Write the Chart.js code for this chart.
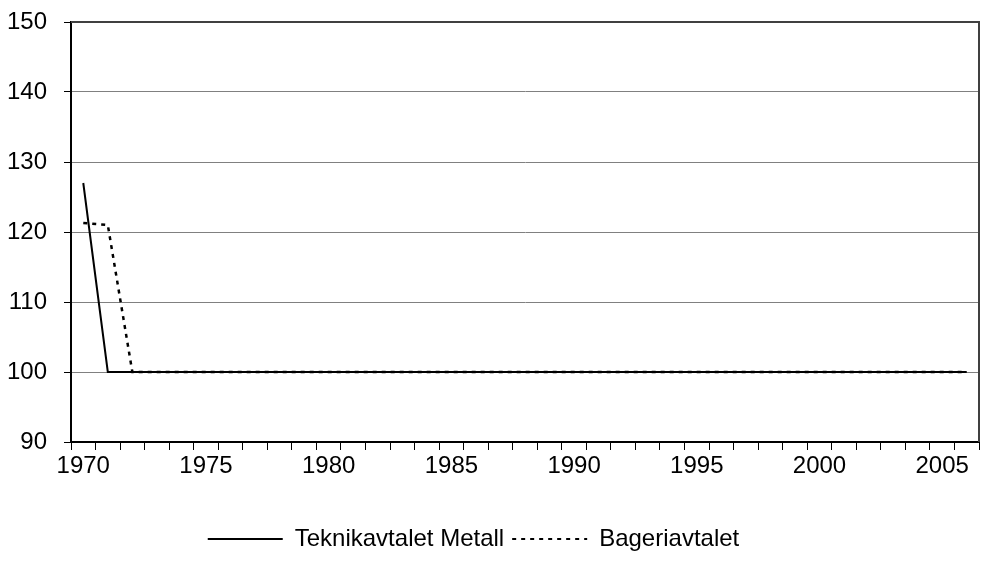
<!DOCTYPE html>
<html>
<head>
<meta charset="utf-8">
<script src="https://cdn.jsdelivr.net/npm/chart.js@4.4.0/dist/chart.umd.min.js"></script>
<style>
  html, body { margin: 0; padding: 0; background: #fff; }
  #wrap { width: 982px; height: 573px; }
</style>
</head>
<body>
<div id="wrap"><canvas id="chart" width="982" height="573"></canvas></div>
<script>
// years 1970-2006
const years = ['1970', '1971', '1972', '1973', '1974', '1975', '1976', '1977', '1978', '1979',
  '1980', '1981', '1982', '1983', '1984', '1985', '1986', '1987', '1988', '1989',
  '1990', '1991', '1992', '1993', '1994', '1995', '1996', '1997', '1998', '1999',
  '2000', '2001', '2002', '2003', '2004', '2005', '2006'];

const yearLabelsShown = ['1970', '1975', '1980', '1985', '1990', '1995', '2000', '2005'];

const teknikMetall = [127, 100, 100, 100, 100, 100, 100, 100, 100, 100,
  100, 100, 100, 100, 100, 100, 100, 100, 100, 100,
  100, 100, 100, 100, 100, 100, 100, 100, 100, 100,
  100, 100, 100, 100, 100, 100, 100];

const bageri = [121.3, 121, 100, 100, 100, 100, 100, 100, 100, 100,
  100, 100, 100, 100, 100, 100, 100, 100, 100, 100,
  100, 100, 100, 100, 100, 100, 100, 100, 100, 100,
  100, 100, 100, 100, 100, 100, 100];

const font = 'Liberation Sans, Arial, sans-serif';

// plot area border (top and right), legend nudged left
const frame = {
  id: 'frame',
  afterLayout(chart) {
    chart.legend.left -= 16;
    chart.legend.right -= 16;
  },
  afterDraw(chart) {
    const a = chart.chartArea, c = chart.ctx;
    c.save();
    c.strokeStyle = '#404040';
    c.lineWidth = 2;
    c.beginPath();
    c.moveTo(a.left, a.top);
    c.lineTo(a.right, a.top);
    c.lineTo(a.right, a.bottom);
    c.stroke();
    c.restore();
  }
};

new Chart(document.getElementById('chart'), {
  type: 'line',
  data: {
    labels: years,
    datasets: [
      {
        label: 'Teknikavtalet Metall',
        data: teknikMetall,
        borderColor: '#000',
        borderWidth: 2,
        pointRadius: 0,
        tension: 0
      },
      {
        label: 'Bageriavtalet',
        data: bageri,
        borderColor: '#000',
        borderWidth: 2.5,
        borderDash: [4, 5],
        pointRadius: 0,
        tension: 0
      }
    ]
  },
  options: {
    responsive: false,
    animation: false,
    layout: { padding: { top: 22, right: 3, bottom: 12, left: 0 } },
    plugins: {
      tooltip: { enabled: false },
      legend: {
        position: 'bottom',
        labels: {
          color: '#000',
          font: { family: font, size: 24 },
          usePointStyle: true,
          pointStyle: 'line',
          pointStyleWidth: 75,
          boxHeight: 24,
          padding: 8,
          generateLabels(chart) {
            const items = Chart.defaults.plugins.legend.labels.generateLabels(chart);
            items.forEach(it => {
              const ds = chart.data.datasets[it.datasetIndex];
              it.lineDash = ds.borderDash || [];
              it.lineWidth = 2;
            });
            return items;
          }
        }
      }
    },
    scales: {
      x: {
        offset: true,
        grid: {
          offset: true,
          drawOnChartArea: false,
          drawTicks: true,
          tickLength: 8,
          color: '#000',
          tickColor: '#000'
        },
        border: { color: '#000', width: 2 },
        ticks: {
          autoSkip: false,
          maxRotation: 0,
          color: '#000',
          font: { family: font, size: 24 },
          padding: 2,
          callback: function (v, i) {
            const l = years[i];
            return yearLabelsShown.includes(l) ? l : '';
          }
        },
        afterFit(scale) { scale.height = 77; }
      },
      y: {
        min: 90,
        max: 150,
        grid: {
          color: '#808080',
          lineWidth: 1,
          tickLength: 7,
          tickColor: '#000'
        },
        border: { color: '#000', width: 2 },
        ticks: {
          stepSize: 10,
          color: '#000',
          font: { family: font, size: 24 },
          padding: 17
        },
        afterFit(scale) {
          scale.width = 71;
          scale.paddingTop = 0;
          scale.paddingBottom = 0;
        }
      }
    }
  },
  plugins: [frame]
});
</script>
</body>
</html>
